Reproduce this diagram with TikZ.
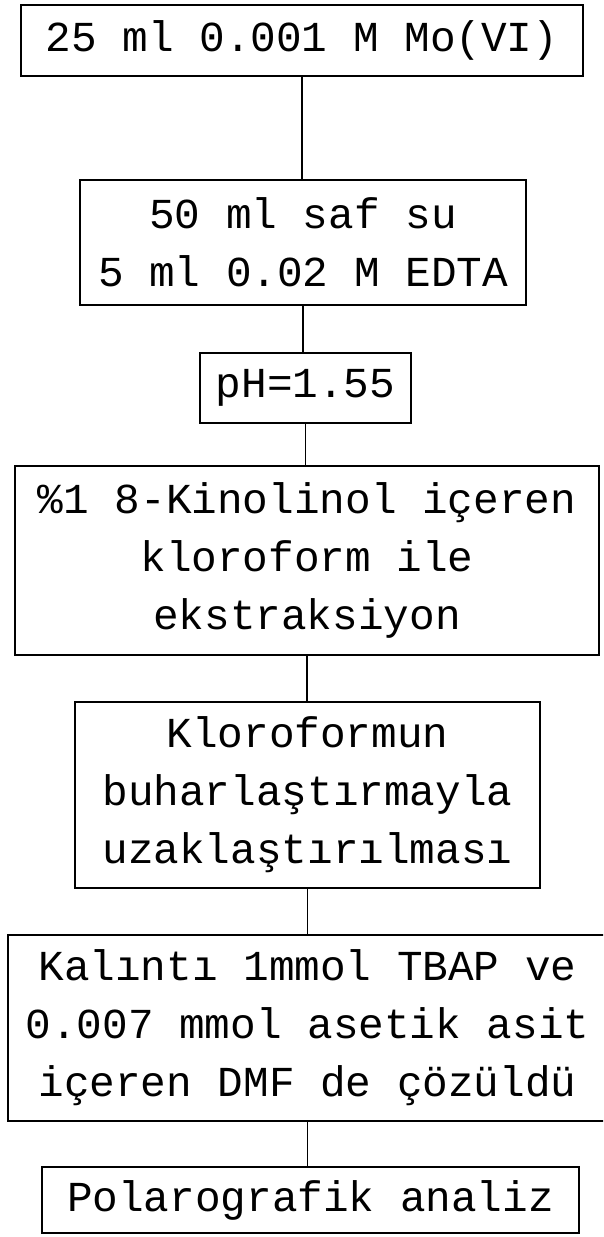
\documentclass[tikz,border=0pt]{standalone}
\usepackage{fontspec}
\setmonofont{Liberation Mono}
\begin{document}
\begin{tikzpicture}[x=1pt,y=-1pt,
  stepbox/.style={draw, line width=1.8pt, inner sep=0pt, align=center,
    font=\ttfamily\fontsize{42.7}{58}\selectfont},
  link/.style={line width=1.8pt}]
\useasboundingbox (0,0) rectangle (603,1237);
\clip (0,0) rectangle (603,1237);
\node[stepbox, minimum width=562pt, minimum height=71pt] (b1) at (302,40.5) {25 ml 0.001 M Mo(VI)};
\node[stepbox, minimum width=446pt, minimum height=125pt] (b2) at (303,242.5) {50 ml saf su\\5 ml 0.02 M EDTA};
\node[stepbox, minimum width=211pt, minimum height=70pt] (b3) at (305.5,388) {pH=1.55};
\node[stepbox, minimum width=584pt, minimum height=189pt] (b4) at (307,560.5) {\%1 8-Kinolinol içeren\\kloroform ile\\ekstraksiyon};
\node[stepbox, minimum width=465pt, minimum height=186pt] (b5) at (307.5,795) {Kloroformun\\buharlaştırmayla\\uzaklaştırılması};
\node[stepbox, minimum width=599pt, minimum height=186pt] (b6) at (307.5,1028) {Kalıntı 1mmol TBAP ve\\0.007 mmol asetik asit\\içeren DMF de çözüldü};
\node[stepbox, minimum width=537pt, minimum height=66pt] (b7) at (310.5,1200) {Polarografik analiz};
\draw[link] (b1.south) -- (b1.south |- b2.north);
\draw[link] (b2.south) -- (b2.south |- b3.north);
\draw[link] (b3.south) -- (b3.south |- b4.north);
\draw[link] (b4.south) -- (b4.south |- b5.north);
\draw[link] (b5.south) -- (b5.south |- b6.north);
\draw[link] (b6.south) -- (b6.south |- b7.north);
\end{tikzpicture}
\end{document}
